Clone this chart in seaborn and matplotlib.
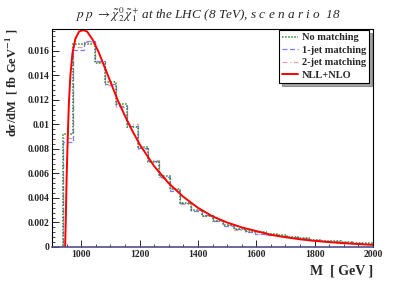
import numpy as np
import pandas as pd
import seaborn as sns
import matplotlib.pyplot as plt
from matplotlib.lines import Line2D
from matplotlib.ticker import MultipleLocator, FixedFormatter, FixedLocator

# histogram binning: 30 bins between 900 and 2000 GeV
bin_edges = np.linspace(900, 2000, 31)

no_matching = [0, 0.0092, 0.0166, 0.0166, 0.0150, 0.0135, 0.0117, 0.0098, 0.0082, 0.0069,
               0.0058, 0.0047, 0.0036, 0.0030, 0.0025, 0.0021, 0.0018, 0.0015, 0.0013, 0.0012,
               0.0011, 0.0010, 0.00085, 0.00072, 0.0006, 0.0005, 0.00045, 0.0004, 0.00033, 0.0003]
jet1_matching = [0, 0.0086, 0.0161, 0.0168, 0.0152, 0.0133, 0.0115, 0.0099, 0.0081, 0.0070,
                 0.0057, 0.0046, 0.0036, 0.0029, 0.0026, 0.0021, 0.0017, 0.0015, 0.0012, 0.0011,
                 0.0010, 0.0009, 0.00082, 0.0007, 0.0006, 0.0005, 0.00044, 0.00038, 0.0003, 0.00028]
jet2_matching = [0, 0.0089, 0.0163, 0.0167, 0.0151, 0.0132, 0.0114, 0.0100, 0.0080, 0.0071,
                 0.0056, 0.0047, 0.0035, 0.0030, 0.0025, 0.0022, 0.0018, 0.0014, 0.0013, 0.0011,
                 0.0010, 0.00088, 0.0008, 0.0007, 0.00058, 0.0005, 0.00045, 0.00036, 0.0003, 0.00026]

# NLL+NLO prediction
nll_mass = [945, 947, 950, 954, 958, 963, 970, 980, 993, 1007, 1020, 1040, 1060, 1080, 1100,
            1125, 1150, 1175, 1200, 1250, 1300, 1350, 1400, 1450, 1500, 1550, 1600, 1650,
            1700, 1750, 1800, 1850, 1900, 1950, 2000]
nll_xsec = [0, 0.002, 0.0055, 0.0090, 0.0118, 0.0140, 0.0158, 0.0170, 0.0176, 0.0177, 0.0176,
            0.0169, 0.0159, 0.0147, 0.0135, 0.0120, 0.0107, 0.0095, 0.0084, 0.0066, 0.0052,
            0.0041, 0.0032, 0.0025, 0.0020, 0.0016, 0.0013, 0.0010, 0.0008, 0.00063, 0.0005,
            0.0004, 0.00031, 0.00024, 0.00018]

y_ticks = [0, 0.002, 0.004, 0.006, 0.008, 0.010, 0.012, 0.014, 0.016]
y_tick_labels = ['0', '0.002', '0.004', '0.006', '0.008', '0.01', '0.012', '0.014', '0.016']
x_ticks = [1000, 1200, 1400, 1600, 1800, 2000]

sns.set_theme(style="white")
plt.rcParams['font.family'] = ['Liberation Serif', 'DejaVu Serif']
plt.rcParams['mathtext.fontset'] = 'stix'

fig = plt.figure(figsize=(4.15, 2.81), dpi=100)
ax = fig.add_axes([0.1253, 0.121, 0.7735, 0.776])

styles = {
    'no': dict(color='#2a8a2a', linestyle=(0, (1, 1)), linewidth=1.1),
    'j1': dict(color='#7c7cf0', linestyle=(0, (4, 2)), linewidth=0.9),
    'j2': dict(color='#e6a0a0', linestyle=(0, (4, 2, 1, 2)), linewidth=0.9),
}
# step histograms
ax.stairs(jet2_matching, bin_edges, **styles['j2'])
ax.stairs(jet1_matching, bin_edges, **styles['j1'])
ax.stairs(no_matching, bin_edges, **styles['no'])

curve_df = pd.DataFrame({'M': nll_mass, 'xsec': nll_xsec})
sns.lineplot(data=curve_df, x='M', y='xsec', color='#ff0000', linewidth=1.4, ax=ax)

ax.set_xlim(900, 2000)
ax.set_ylim(0, 0.0178)

ax.xaxis.set_major_locator(FixedLocator(x_ticks))
ax.xaxis.set_minor_locator(MultipleLocator(50))
ax.yaxis.set_major_locator(FixedLocator(y_ticks))
ax.yaxis.set_major_formatter(FixedFormatter(y_tick_labels))
ax.yaxis.set_minor_locator(MultipleLocator(0.0004))
ax.tick_params(which='both', direction='in', top=False, right=False, bottom=True, left=True,
               labelsize=7, pad=2)
ax.tick_params(which='major', length=5, width=0.7)
ax.tick_params(which='minor', length=2.5, width=0.6)
for lab in ax.get_xticklabels() + ax.get_yticklabels():
    lab.set_fontweight('bold')

for side in ['left', 'right', 'top', 'bottom']:
    ax.spines[side].set_color('black')
    ax.spines[side].set_linewidth(0.8)
ax.spines['bottom'].set_color('#50508a')
ax.spines['bottom'].set_linewidth(1.2)

ax.set_xlabel('M  [ GeV ]', fontsize=10, fontweight='bold', loc='right', labelpad=4)
ax.set_ylabel(r'd$\mathbf{\sigma}$/dM  [ fb GeV$^{\mathbf{-1}}$ ]', fontsize=9,
              fontweight='bold', loc='top', labelpad=5)

fig.text(0.5, 0.948,
         r'$p\ p\ \rightarrow \tilde{\chi}^{0}_{2}\,\tilde{\chi}^{+}_{1}$ at the LHC (8 TeV), s c e n a r i o  18',
         ha='center', va='center', fontsize=9.5, style='italic')

handles = [
    Line2D([], [], **styles['no']),
    Line2D([], [], **styles['j1']),
    Line2D([], [], **styles['j2']),
    Line2D([], [], color='#ff0000', linewidth=1.4),
]
labels = ['No matching', '1-jet matching', '2-jet matching', 'NLL+NLO']
leg = ax.legend(handles, labels, loc='upper right', bbox_to_anchor=(0.988, 0.995),
                prop={'weight': 'bold', 'size': 7.5}, frameon=True, fancybox=False,
                shadow=True, edgecolor='black', handlelength=1.5, handletextpad=0.4,
                borderpad=0.3, labelspacing=0.3, borderaxespad=0)
leg.get_frame().set_linewidth(0.8)

fig.savefig('out.png', dpi=100)
